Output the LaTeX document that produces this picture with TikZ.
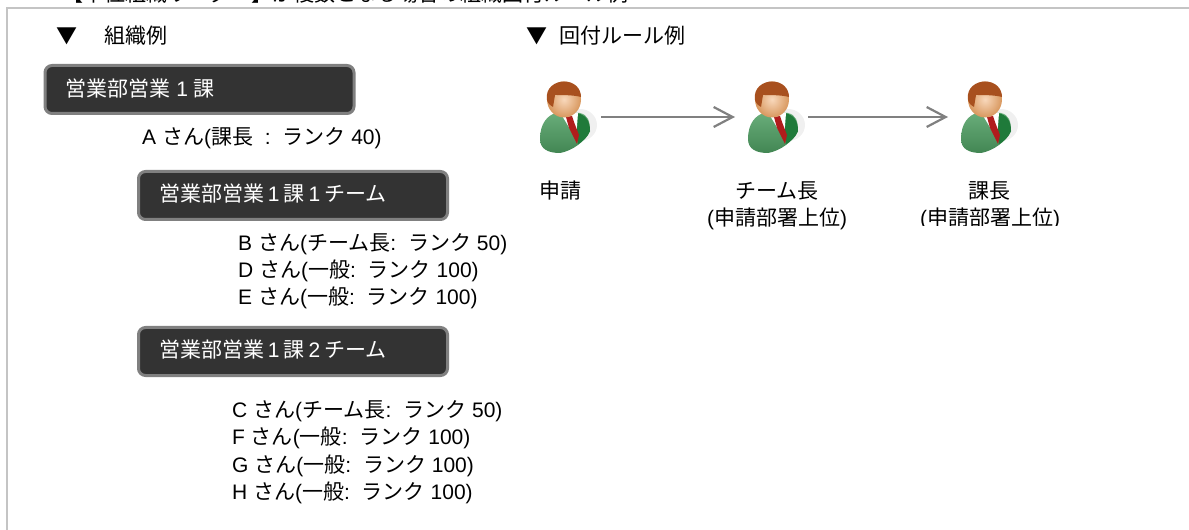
\documentclass[tikz,border=0pt]{standalone}
\usepackage{fontspec}
\setmainfont{Liberation Sans}
\newfontfamily\cjk{Noto Sans CJK JP}
\usetikzlibrary{arrows.meta}
\definecolor{boxfill}{HTML}{333333}
\definecolor{boxedge}{HTML}{808080}
\definecolor{framec}{HTML}{C4C4C4}
\definecolor{suitc}{HTML}{4E9E62}
\definecolor{suitd}{HTML}{1F7A3A}
\definecolor{hairc}{HTML}{A8501E}
\definecolor{facec}{HTML}{F0A868}
\definecolor{tiec}{HTML}{B01C1C}
\newcommand{\T}[1]{{\fontsize{21bp}{24bp}\selectfont #1}}
\newcommand{\A}[1]{{\cjk #1}}
\newcommand{\G}{\hspace{0.28em}}
\newcommand{\Gs}{\hspace{0.19em}}
\newcommand{\BT}[2]{\raisebox{#1}{\T{#2}}}
\tikzset{
  x=1bp,y=-1bp,
  team/.style={draw=boxedge,fill=boxfill,line width=3bp,rounded corners=7bp,minimum height=48bp,minimum width=309bp,anchor=north west,text=white,inner xsep=20.5bp,inner ysep=0pt,outer sep=0pt,text width=268bp,align=left},
  lbl/.style={anchor=west,inner sep=0pt,text=black},
  captext/.style={inner sep=0pt,text=black,align=center},
  flow/.style={draw=boxedge,line width=2.2bp,-{Straight Barb[length=19bp,width=20bp,line width=2.2bp]}},
  person/.pic={
    \fill[gray!12] (18,8) ellipse (17 and 16);
    \shade[top color=suitc!85!white,bottom color=suitc!85!black] (-22,22) .. controls (-22,6) and (-14,-2) .. (-6,-4) -- (18,-4) .. controls (26,-2) and (28,4) .. (28,14) .. controls (24,24) and (10,34) .. (-2,36) .. controls (-14,36) and (-22,32) .. (-22,22) -- cycle;
    \fill[suitd] (14,-4) .. controls (22,-3) and (28,2) .. (28,14) .. controls (26,20) and (20,25) .. (16,27) -- cycle;
    \fill[white] (-1,-3) -- (16,-4) -- (14,22) -- cycle;
    \fill[tiec] (4,0) -- (10,-1) -- (12,5) -- (17,18) -- (15,27) -- (7,11) -- cycle;
    \shade[inner color=facec!45!white,outer color=facec!90!black] (2,-17.5) ellipse (17 and 18);
    \fill[hairc] (-15,-17) .. controls (-17,-30) and (-6,-35.5) .. (2,-35.5) .. controls (12,-35.5) and (19,-29) .. (19,-20) .. controls (12,-22) and (0,-22) .. (-7,-22) -- (-9,-10) .. controls (-11,-11) and (-14,-13) .. (-15,-17) -- cycle;
  }
}
\begin{document}
\begin{tikzpicture}
\useasboundingbox (0,0) rectangle (1189,530);
% clipped heading
\begin{scope}
\clip (0,0) rectangle (1189,7);
\node[lbl] (heading) at (62,-6) {\T{\A{【単位組織リーダー】が複数となる場合の組織回付ルール例}}};
\end{scope}
% frame
\draw[framec,line width=2bp] (6.5,530) -- (6.5,8) -- (1189,8);
% headings
\node[lbl] (h1a) at (56,36) {\T{\A{▼}}};
\node[lbl] (h1b) at (104,36) {\T{\A{組織例}}};
\node[lbl] (h2a) at (526,36) {\T{\A{▼}}};
\node[lbl] (h2b) at (559,36) {\T{\A{回付ルール例}}};
% team boxes
\node[team] (ka) at (45,65.5) {\BT{4bp}{\A{営業部営業}\G 1\G\A{課}}};
\node[team] (t1) at (138.5,171.5) {\BT{5.5bp}{\A{営業部営業}\Gs 1\Gs\A{課}\Gs 1\Gs\A{チーム}}};
\node[team] (t2) at (138.5,327.5) {\BT{5.5bp}{\A{営業部営業}\Gs 1\Gs\A{課}\Gs 2\Gs\A{チーム}}};
% members
\node[lbl] (a) at (142,138.5) {\T{A\G\A{さん}(\A{課長}\G\G :\G\G\A{ランク}\G 40)}};
\node[lbl] (b) at (238,244) {\T{B\G\A{さん}(\A{チーム長}:\G\G\A{ランク}\G 50)}};
\node[lbl] (d) at (238,271) {\T{D\G\A{さん}(\A{一般}:\G\G\A{ランク}\G 100)}};
\node[lbl] (e) at (238,298) {\T{E\G\A{さん}(\A{一般}:\G\G\A{ランク}\G 100)}};
\node[lbl] (c) at (232,411) {\T{C\G\A{さん}(\A{チーム長}:\G\G\A{ランク}\G 50)}};
\node[lbl] (f) at (232,438) {\T{F\G\A{さん}(\A{一般}:\G\G\A{ランク}\G 100)}};
\node[lbl] (g) at (232,466) {\T{G\G\A{さん}(\A{一般}:\G\G\A{ランク}\G 100)}};
\node[lbl] (h) at (232,493) {\T{H\G\A{さん}(\A{一般}:\G\G\A{ランク}\G 100)}};
% people
\pic at (562,117) {person};
\pic at (770,117) {person};
\pic at (983,117) {person};
\coordinate (p1) at (601,117);
\coordinate (p2) at (735,117);
\coordinate (p3) at (808,117);
\coordinate (p4) at (948,117);
\draw[flow] (p1) -- (p2);
\draw[flow] (p3) -- (p4);
% captions
\node[captext] (c1) at (560,191) {\T{\A{申請}}};
\node[captext] (c2) at (777,191) {\T{\A{チーム長}}};
\node[captext] (c2b) at (777,219) {\T{(\A{申請部署上位})}};
\node[captext] (c3) at (989,191) {\T{\A{課長}}};
\begin{scope}
\clip (900,200) rectangle (1100,225.5);
\node[captext] (c3b) at (990,219) {\T{(\A{申請部署上位})}};
\end{scope}
\end{tikzpicture}
\end{document}
